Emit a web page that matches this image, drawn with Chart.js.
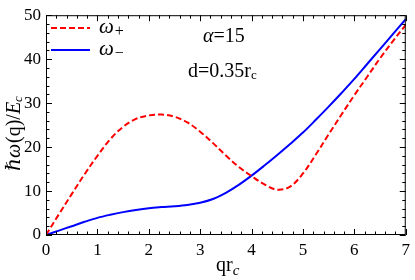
<!DOCTYPE html>
<html>
<head>
<meta charset="utf-8">
<script src="https://cdn.jsdelivr.net/npm/chart.js@4.4.1/dist/chart.umd.min.js"></script>
<style>
  html, body { margin: 0; padding: 0; background: #fff; }
  #wrap { width: 415px; height: 280px; position: relative; }
</style>
</head>
<body>
<div id="wrap"><canvas id="chart"></canvas></div>
<script>
// Data: dispersion of the two branches vs q r_c
const qValues = [0, 0.25, 0.5, 0.75, 1, 1.25, 1.5, 1.75, 2, 2.25, 2.5, 2.75, 3, 3.25, 3.5,
                 3.75, 4, 4.25, 4.5, 4.75, 5, 5.25, 5.5, 5.75, 6, 6.25, 6.5, 6.75, 7];
const omegaPlus = [0, 4.7, 9.3, 13.8, 18.0, 21.8, 24.6, 26.4, 27.2, 27.4, 26.9, 25.6, 23.5, 20.9, 18.1,
                   15.5, 13.4, 11.5, 10.3, 11.0, 14.0, 18.3, 22.9, 27.4, 31.8, 36.0, 40.2, 44.1, 47.8];
const omegaMinus = [0, 1.0, 2.0, 3.0, 3.9, 4.6, 5.2, 5.7, 6.1, 6.35, 6.55, 6.85, 7.35, 8.2, 9.6,
                    11.4, 13.5, 15.8, 18.2, 20.7, 23.3, 26.2, 29.2, 32.3, 35.5, 38.9, 42.3, 45.7, 49.1];
const xRange = [0, 7];
const yRange = [0, 50];

const serif = '"Liberation Serif", "DejaVu Serif", serif';

function toPoints(ys) {
    return qValues.map((q, i) => ({ x: q, y: ys[i] }));
}

// draw a row of text runs (for italics and subscripts)
function drawRuns(ctx, x, y, runs) {
    let cx = x;
    runs.forEach(r => {
        ctx.font = r.font;
        ctx.fillText(r.text, cx, y + (r.dy || 0));
        cx += ctx.measureText(r.text).width + (r.gap || 0);
    });
    return cx;
}

// frame with inward ticks on all four sides, like the original
const frameTicks = {
    id: 'frameTicks',
    afterDatasetsDraw(chart) {
        const { ctx, chartArea: a, scales: { x, y } } = chart;
        ctx.save();
        ctx.strokeStyle = '#000';
        ctx.lineWidth = 1;
        ctx.strokeRect(a.left + 0.5, a.top + 0.5, a.right - a.left - 1, a.bottom - a.top - 1);

        ctx.beginPath();
        for (let i = 0; i <= 35; i++) {
            const px = Math.round(x.getPixelForValue(i * 0.2)) + 0.5;
            const len = i % 5 === 0 ? 6 : 3.5;
            ctx.moveTo(px, a.bottom); ctx.lineTo(px, a.bottom - len);
            ctx.moveTo(px, a.top); ctx.lineTo(px, a.top + len);
        }
        for (let i = 0; i <= 25; i++) {
            const py = Math.round(y.getPixelForValue(i * 2)) + 0.5;
            const len = i % 5 === 0 ? 6 : 3.5;
            ctx.moveTo(a.left, py); ctx.lineTo(a.left + len, py);
            ctx.moveTo(a.right, py); ctx.lineTo(a.right - len, py);
        }
        ctx.stroke();
        ctx.restore();
    },
    afterDraw(chart) {
        const ctx = chart.ctx;
        ctx.save();
        ctx.fillStyle = '#000';
        ctx.textBaseline = 'alphabetic';
        ctx.textAlign = 'left';

        // legend
        ctx.lineWidth = 2;
        ctx.strokeStyle = '#ff0000';
        ctx.setLineDash([6, 3]);
        ctx.beginPath(); ctx.moveTo(51, 28); ctx.lineTo(90, 28); ctx.stroke();
        ctx.setLineDash([]);
        ctx.strokeStyle = '#0000ff';
        ctx.beginPath(); ctx.moveTo(51, 50); ctx.lineTo(90, 50); ctx.stroke();
        drawRuns(ctx, 99, 33, [
            { text: 'ω', font: `italic 21px ${serif}`, gap: 1 },
            { text: '+', font: `16px ${serif}`, dy: 3 }
        ]);
        drawRuns(ctx, 99, 55, [
            { text: 'ω', font: `italic 21px ${serif}`, gap: 1 },
            { text: '−', font: `16px ${serif}`, dy: 3 }
        ]);

        // parameters
        drawRuns(ctx, 203, 42, [
            { text: 'α', font: `italic 20px ${serif}` },
            { text: '=15', font: `20px ${serif}` }
        ]);
        drawRuns(ctx, 188, 77, [
            { text: 'd=0.35r', font: `20px ${serif}` },
            { text: 'c', font: `13px ${serif}`, dy: 2 }
        ]);

        // x axis title
        drawRuns(ctx, 216, 271, [
            { text: 'qr', font: `20px ${serif}` },
            { text: 'c', font: `italic 15px ${serif}`, dy: 4 }
        ]);

        // y axis title (rotated)
        ctx.translate(20, 171);
        ctx.rotate(-Math.PI / 2);
        drawRuns(ctx, 0, 0, [
            { text: 'ℏ', font: `italic 20px ${serif}` },
            { text: 'ω', font: `italic 20px ${serif}`, gap: 1 },
            { text: '(q)/', font: `20px ${serif}` },
            { text: 'E', font: `italic 20px ${serif}` },
            { text: 'c', font: `italic 13px ${serif}`, dy: 2 }
        ]);
        ctx.restore();
    }
};

const ctx = document.getElementById('chart').getContext('2d');
const chart = new Chart(ctx, {
    type: 'line',
    data: {
        datasets: [
            {
                label: 'ω+',
                data: toPoints(omegaPlus),
                borderColor: '#ff0000',
                borderWidth: 2,
                borderDash: [6, 3],
                pointRadius: 0,
                tension: 0.35,
                fill: false
            },
            {
                label: 'ω−',
                data: toPoints(omegaMinus),
                borderColor: '#0000ff',
                borderWidth: 2,
                pointRadius: 0,
                tension: 0.35,
                fill: false
            }
        ]
    },
    options: {
        responsive: true,
        maintainAspectRatio: false,
        animation: false,
        layout: { padding: { left: 0, right: 6, top: 10, bottom: 0 } },
        plugins: {
            legend: { display: false },
            tooltip: { enabled: false }
        },
        scales: {
            x: {
                type: 'linear',
                min: xRange[0],
                max: xRange[1],
                grid: { display: false, drawTicks: false },
                border: { display: false },
                ticks: {
                    stepSize: 1,
                    color: '#000',
                    padding: 5,
                    maxRotation: 0,
                    font: { family: serif, size: 17 }
                },
                afterFit(scale) { scale.height = 45; }
            },
            y: {
                min: yRange[0],
                max: yRange[1],
                grid: { display: false, drawTicks: false },
                border: { display: false },
                ticks: {
                    stepSize: 10,
                    color: '#000',
                    padding: 5,
                    font: { family: serif, size: 17 }
                },
                afterFit(scale) { scale.width = 46; }
            }
        }
    },
    plugins: [frameTicks]
});
</script>
</body>
</html>
